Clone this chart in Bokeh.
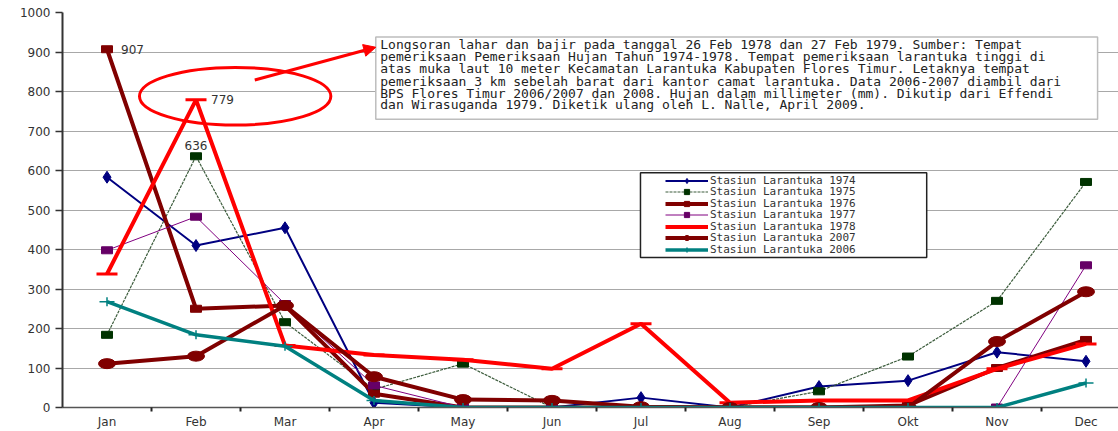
from bokeh.plotting import figure
from bokeh.models import FixedTicker, Legend, LegendItem, Arrow, NormalHead, Range1d
from bokeh.core.properties import value
from bokeh.embed import file_html
from bokeh.resources import INLINE

# ---------------- data ----------------
months = ["Jan", "Feb", "Mar", "Apr", "May", "Jun", "Jul", "Aug", "Sep", "Okt", "Nov", "Dec"]
s1974 = [583, 410, 455, 12, 0, 0, 25, 0, 53, 68, 140, 117]
s1975 = [184, 636, 216, 46, 111, 0, 0, 0, 41, 129, 270, 571]
s1976 = [907, 250, 258, 35, 0, 0, 0, 0, 0, 5, 100, 171]
s1977 = [398, 483, 262, 56, 0, 0, 0, 0, 0, 0, 0, 360]
s1978 = [338, 779, 157, 133, 121, 98, 212, 12, 18, 18, 98, 161]
s2007 = [111, 130, 258, 78, 20, 18, 2, 0, 0, 0, 167, 293]
s2006 = [268, 184, 155, 18, 0, 0, 0, 0, 0, 0, 0, 62]
y_ticks = [0, 100, 200, 300, 400, 500, 600, 700, 800, 900, 1000]

note_lines = [
    "Longsoran lahar dan bajir pada tanggal 26 Feb 1978 dan 27 Feb 1979. Sumber: Tempat",
    "pemeriksaan Pemeriksaan Hujan Tahun 1974-1978. Tempat pemeriksaan larantuka tinggi di",
    "atas muka laut 10 meter Kecamatan Larantuka Kabupaten Flores Timur. Letaknya tempat",
    "pemeriksaan 3 km sebelah barat dari kantor camat larantuka. Data 2006-2007 diambil dari",
    "BPS Flores Timur 2006/2007 dan 2008. Hujan dalam millimeter (mm). Dikutip dari Effendi",
    "dan Wirasuganda 1979. Diketik ulang oleh L. Nalle, April 2009.",
]

x = list(range(1, len(months) + 1))
FONT = value("DejaVu Sans")
MONO = value("DejaVu Sans Mono")
TXT = "#333333"

p = figure(width=1118, height=431, output_backend="svg", toolbar_location=None,
           x_range=Range1d(0.5, 12.365), y_range=Range1d(0, 1000),
           min_border_left=62, min_border_right=0, min_border_top=12, min_border_bottom=0)
p.outline_line_color = None
p.background_fill_color = "white"

# axes
p.xaxis.ticker = FixedTicker(ticks=x, minor_ticks=[i + 0.5 for i in x])
p.xaxis.major_label_overrides = {i: m for i, m in zip(x, months)}
p.xaxis.major_tick_out = 0
p.xaxis.major_tick_in = 0
p.xaxis.minor_tick_out = 4
p.xaxis.minor_tick_in = 0
p.xaxis.minor_tick_line_color = "#222222"
p.xaxis.minor_tick_line_width = 2
p.xaxis.axis_line_color = "#555555"
p.xaxis.axis_line_width = 1.5
p.xaxis.major_label_standoff = 3
p.xaxis.axis_label = None
p.xaxis.axis_label_standoff = 0

p.yaxis.ticker = FixedTicker(ticks=y_ticks)
p.yaxis.major_tick_out = 7
p.yaxis.major_tick_in = 0
p.yaxis.minor_tick_out = 0
p.yaxis.minor_tick_in = 0
p.yaxis.major_tick_line_color = "#333333"
p.yaxis.major_tick_line_width = 1.5
p.yaxis.axis_line_color = "#333333"
p.yaxis.axis_line_width = 2
p.yaxis.major_label_standoff = 5

for ax in (p.xaxis[0], p.yaxis[0]):
    ax.major_label_text_font = "DejaVu Sans"
    ax.major_label_text_font_size = "12px"
    ax.major_label_text_color = TXT

p.xgrid.visible = False
p.ygrid.ticker = FixedTicker(ticks=y_ticks[1:-1])
p.ygrid.grid_line_color = "#a8a8a8"
p.ygrid.grid_line_width = 1

items = []

def add_series(name, ys, color, lw, kind, mcolor, dash="solid"):
    lr = p.line(x, ys, line_color=color, line_width=lw, line_dash=dash)
    rs = [lr]
    if kind == "square":
        p.rect(x, ys, width=11, height=7, width_units="screen", height_units="screen",
               fill_color=mcolor, line_color=mcolor)
        leg = p.scatter(x, ys, marker="square", size=8, fill_color=mcolor, line_color=mcolor)
    elif kind == "circle":
        p.ellipse(x, ys, width=17, height=10, width_units="screen", height_units="screen",
                  fill_color=mcolor, line_color=mcolor)
        leg = p.scatter(x, ys, marker="circle", size=9, fill_color=mcolor, line_color=mcolor)
    elif kind == "diamond":
        p.scatter(x, ys, marker="diamond", size=12, fill_color=mcolor, line_color=mcolor)
        leg = p.scatter(x, ys, marker="diamond", size=10, fill_color=mcolor, line_color=mcolor)
    elif kind == "dash":
        p.scatter(x, ys, marker="dash", size=21, line_color=mcolor, line_width=3)
        leg = p.scatter(x, ys, marker="dash", size=14, line_color=mcolor, line_width=3)
    else:  # plus
        p.scatter(x, ys, marker="dash", size=15, line_color=mcolor, line_width=1.5)
        p.scatter(x, ys, marker="dash", size=9, angle=1.5708, line_color=mcolor, line_width=1.5)
        leg = p.scatter(x, ys, marker="cross", size=9, line_color=mcolor, line_width=1.5)
    leg.visible = False
    rs.append(leg)
    items.append(LegendItem(label=name, renderers=rs))

add_series("Stasiun Larantuka 1974", s1974, "#000080", 2, "diamond", "#000080")
add_series("Stasiun Larantuka 1975", s1975, "#3c5c3c", 1.2, "square", "#003300", dash="3 1")
add_series("Stasiun Larantuka 1976", s1976, "#800000", 4, "square", "#800000")
add_series("Stasiun Larantuka 1977", s1977, "#800080", 1, "square", "#660066")
add_series("Stasiun Larantuka 1978", s1978, "#ff0000", 4, "dash", "#ff0000")
add_series("Stasiun Larantuka 2007", s2007, "#800000", 4, "circle", "#800000")
add_series("Stasiun Larantuka 2006", s2006, "#008080", 3.5, "plus", "#008080")

# data labels
p.text(x=[x[0]], y=[s1976[0]], text=[str(s1976[0])], x_offset=14, text_baseline="middle",
       text_font=FONT, text_font_size="12px", text_color=TXT)
p.text(x=[x[1]], y=[s1978[1]], text=[str(s1978[1])], x_offset=15, text_baseline="middle",
       text_font=FONT, text_font_size="12px", text_color=TXT)
p.text(x=[x[1]], y=[s1975[1]], text=[str(s1975[1])], y_offset=-11, text_align="center",
       text_baseline="middle", text_font=FONT, text_font_size="12px", text_color=TXT)

# highlight ellipse and arrow
p.ellipse(x=[2.44], y=[788], width=2.15, height=146, fill_alpha=0,
          line_color="#ff0000", line_width=3)
p.add_layout(Arrow(end=NormalHead(size=12, fill_color="#ff0000", line_color="#ff0000"),
                   x_start=2.66, y_start=829, x_end=4.02, y_end=912,
                   line_color="#ff0000", line_width=3))

# note box
p.quad(left=[4.02], right=[12.13], top=[938], bottom=[730], fill_color="white",
       line_color="#bdbdbd", line_width=1.5)
note_y = [919, 888, 857, 826, 796, 766]
p.text(x=[4.07] * len(note_lines), y=note_y, text=note_lines, text_baseline="middle",
       text_font=MONO, text_font_size="13px", text_color="#222222")

# legend box
p.quad(left=[6.994], right=[10.21], top=[594], bottom=[380], fill_color="white",
       line_color="#222222", line_width=1.5)

# one tight legend per series so that the rows can sit close together
FRAME_BOTTOM = 407
ROW_H = 11.5
row_centers = [180 + ROW_H * i for i in range(len(items))]
for item, c in zip(items, row_centers):
    leg = Legend(items=[item], location=(603, FRAME_BOTTOM - c - 6.5), orientation="vertical",
                 label_text_font="DejaVu Sans Mono", label_text_font_size="11px",
                 label_text_color=TXT, label_height=13, glyph_height=13, glyph_width=43,
                 label_standoff=2, spacing=0, padding=0, margin=0,
                 border_line_alpha=0, background_fill_alpha=0)
    p.add_layout(leg, "center")

open("out.html", "w").write(file_html(p, INLINE))
